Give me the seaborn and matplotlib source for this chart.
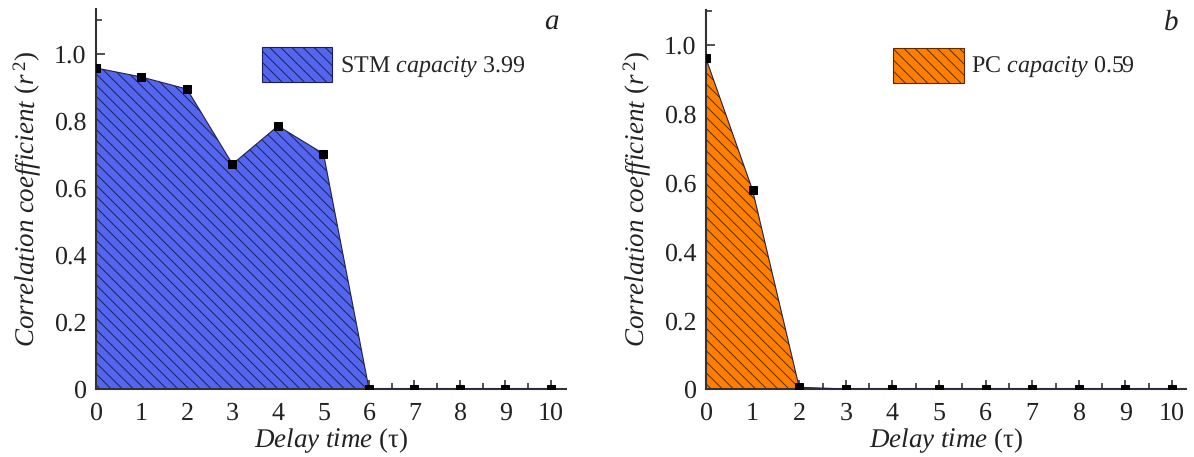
import matplotlib
matplotlib.use("Agg")
import matplotlib.pyplot as plt
from matplotlib.patches import Patch
from matplotlib.ticker import MultipleLocator, FixedLocator, FixedFormatter
import numpy as np
import pandas as pd
import seaborn as sns

# Delay steps and correlation coefficients for the two reservoirs
delay = [0, 1, 2, 3, 4, 5, 6, 7, 8, 9, 10]
stm_r2 = [0.958, 0.931, 0.895, 0.671, 0.785, 0.702, 0.0, 0.0, 0.0, 0.0, 0.0]
pc_r2 = [0.961, 0.578, 0.005, 0.0, 0.0, 0.0, 0.0, 0.0, 0.0, 0.0, 0.0]
stm_capacity = 3.99
pc_capacity = 0.59
y_ticks = [0, 0.2, 0.4, 0.6, 0.8, 1.0]
y_tick_labels = ["0", "0.2", "0.4", "0.6", "0.8", "1.0"]
x_ticks = list(range(0, 11))

sns.set_theme(style="ticks")
plt.rcParams["font.family"] = ["Liberation Serif", "DejaVu Serif"]
plt.rcParams["mathtext.fontset"] = "custom"
plt.rcParams["mathtext.rm"] = "Liberation Serif"
plt.rcParams["mathtext.it"] = "Liberation Serif:italic"
plt.rcParams["mathtext.bf"] = "Liberation Serif:bold"
plt.rcParams["hatch.linewidth"] = 0.7
plt.rcParams["text.hinting"] = "no_hinting"
plt.rcParams["text.hinting_factor"] = 1

TICK_FS = 19
LABEL_FS = 19.5
LEG_FS = 17.5
AX_COLOR = "#333333"
TXT = "#222222"

fig = plt.figure(figsize=(11.94, 4.57), dpi=100)
ax_a = fig.add_axes([96 / 1194, 68 / 457, 470 / 1194, 380 / 457])
ax_b = fig.add_axes([706 / 1194, 68 / 457, 480 / 1194, 379 / 457])

panels = [
    (ax_a, stm_r2, "#5566EE", "#1a1f5c", "STM", stm_capacity, 1.134, 10.33, "a", 0.353),
    (ax_b, pc_r2, "#FF8000", "#5a2a00", "PC", pc_capacity, 1.102, 10.3, "b", 0.39),
]

for ax, vals, fc, hc, name, cap, ytop, xright, tag, leg_x in panels:
    df = pd.DataFrame({"delay": delay, "r2": vals})
    ax.fill_between(df["delay"], df["r2"], 0, facecolor=fc, edgecolor=hc,
                    hatch="\\\\\\", linewidth=0.0, zorder=1)
    sns.lineplot(data=df, x="delay", y="r2", ax=ax, color="#222244",
                 linewidth=0.8, marker="s", markersize=6,
                 markeredgecolor="black", markerfacecolor="black", zorder=3)

    ax.set_xlim(0, xright)
    ax.set_ylim(0, ytop)
    ax.xaxis.set_major_locator(FixedLocator(x_ticks))
    ax.xaxis.set_minor_locator(MultipleLocator(0.5))
    ax.yaxis.set_major_locator(FixedLocator(y_ticks))
    ax.yaxis.set_major_formatter(FixedFormatter(y_tick_labels))
    ax.yaxis.set_minor_locator(MultipleLocator(0.1))
    ax.tick_params(which="both", direction="in", colors=AX_COLOR,
                   labelcolor=TXT, labelsize=TICK_FS, width=1.2)
    ax.tick_params(which="major", length=6.5)
    ax.tick_params(axis="x", which="major", pad=9)
    ax.tick_params(axis="y", which="major", pad=7)
    ax.tick_params(which="minor", length=4.3)

    for s in ("top", "right"):
        ax.spines[s].set_visible(False)
    for s in ("left", "bottom"):
        ax.spines[s].set_color(AX_COLOR)
        ax.spines[s].set_linewidth(1.5)

    ax.set_xlabel(r"$\mathit{Delay\ time}$ $(\mathrm{\tau})$", fontsize=LABEL_FS,
                  color=TXT, labelpad=1)
    ax.set_ylabel(r"$\mathit{Correlation\ coefficient}$ $(\mathit{r}^{\,2})$",
                  fontsize=LABEL_FS, color=TXT, labelpad=8)

    handle = Patch(facecolor=fc, edgecolor=hc, hatch="\\\\\\", linewidth=0.8)
    label = name + r" $\mathit{capacity}$ " + f"{cap:.2f}"
    ax.legend([handle], [label], loc="upper left", bbox_to_anchor=(leg_x, 0.9),
              frameon=False, fontsize=LEG_FS, handlelength=2.9, handleheight=1.85,
              handletextpad=0.3, borderpad=0, borderaxespad=0)

    ax.text(0.985, 1.0, tag, transform=ax.transAxes, ha="right", va="top",
            fontsize=21, style="italic", color=TXT)

fig.savefig("out.png", dpi=100)
